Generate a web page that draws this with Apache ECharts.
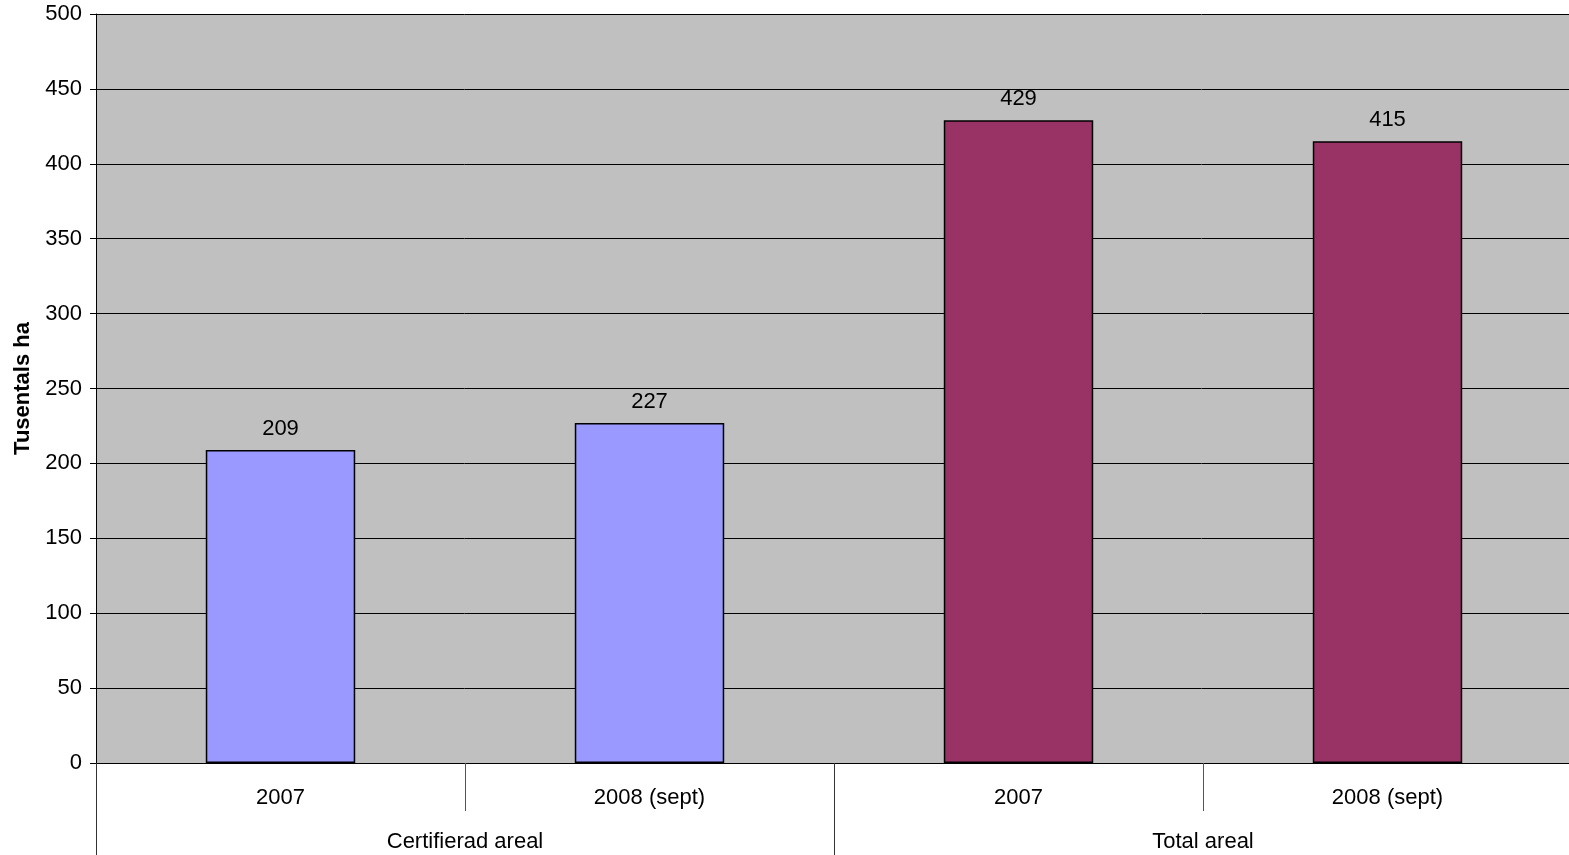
<!DOCTYPE html>
<html><head><meta charset="utf-8">
<script src="https://cdn.jsdelivr.net/npm/echarts@6/dist/echarts.min.js"></script>
<style>html,body{margin:0;padding:0;background:#fff}#c{width:1569px;height:855px}</style>
</head><body><div id="c"></div>
<script>
const categories = ['2007', '2008 (sept)', '2007', '2008 (sept)'];
const groups = ['Certifierad areal', 'Total areal'];
const values = [209, 227, 429, 415];
const colors = ['#9999FF', '#9999FF', '#993366', '#993366'];
const yTicks = [0, 50, 100, 150, 200, 250, 300, 350, 400, 450, 500];

const font = 'Liberation Sans, Arial, sans-serif';
const chart = echarts.init(document.getElementById('c'));
chart.setOption({
  animation: false,
  grid: { left: 96, right: -3, top: 14, bottom: 92, show: true, backgroundColor: '#C0C0C0', borderWidth: 0,
          containLabel: false, outerBoundsMode: 'none' },
  xAxis: [
    {
      type: 'category', data: categories, position: 'bottom',
      axisLine: { show: true, lineStyle: { color: '#000', width: 1 } },
      axisTick: { show: true, length: 48, interval: 0, lineStyle: { color: '#555' } },
      axisLabel: { fontFamily: font, fontSize: 22, color: '#000', margin: 24, interval: 0 },
      splitLine: { show: false }
    },
    {
      type: 'category', data: groups, position: 'bottom',
      axisLine: { show: false },
      axisTick: { show: true, length: 93, interval: 0, lineStyle: { color: '#333' } },
      axisLabel: { fontFamily: font, fontSize: 22, color: '#000', margin: 68, interval: 0 },
      splitLine: { show: false }
    }
  ],
  yAxis: {
    type: 'value', min: yTicks[0], max: yTicks[yTicks.length - 1], interval: 50,
    name: 'Tusentals ha', nameLocation: 'middle', nameGap: 62, nameRotate: 90,
    nameTextStyle: { fontFamily: font, fontSize: 22, fontWeight: 'bold', color: '#000' },
    axisLine: { show: true, lineStyle: { color: '#000', width: 1 } },
    axisTick: { show: true, length: 6, lineStyle: { color: '#000' } },
    axisLabel: { fontFamily: font, fontSize: 22, color: '#000', margin: 14 },
    splitLine: { show: true, lineStyle: { color: '#000', width: 1 } }
  },
  series: [{
    type: 'bar', xAxisIndex: 0,
    barWidth: '40.5%',
    data: values.map((v, i) => ({ value: v, itemStyle: { color: colors[i] } })),
    itemStyle: { borderColor: '#000', borderWidth: 1.5 },
    label: { show: true, position: 'top', distance: 10, fontFamily: font, fontSize: 22, color: '#000' }
  }]
});
</script></body></html>
